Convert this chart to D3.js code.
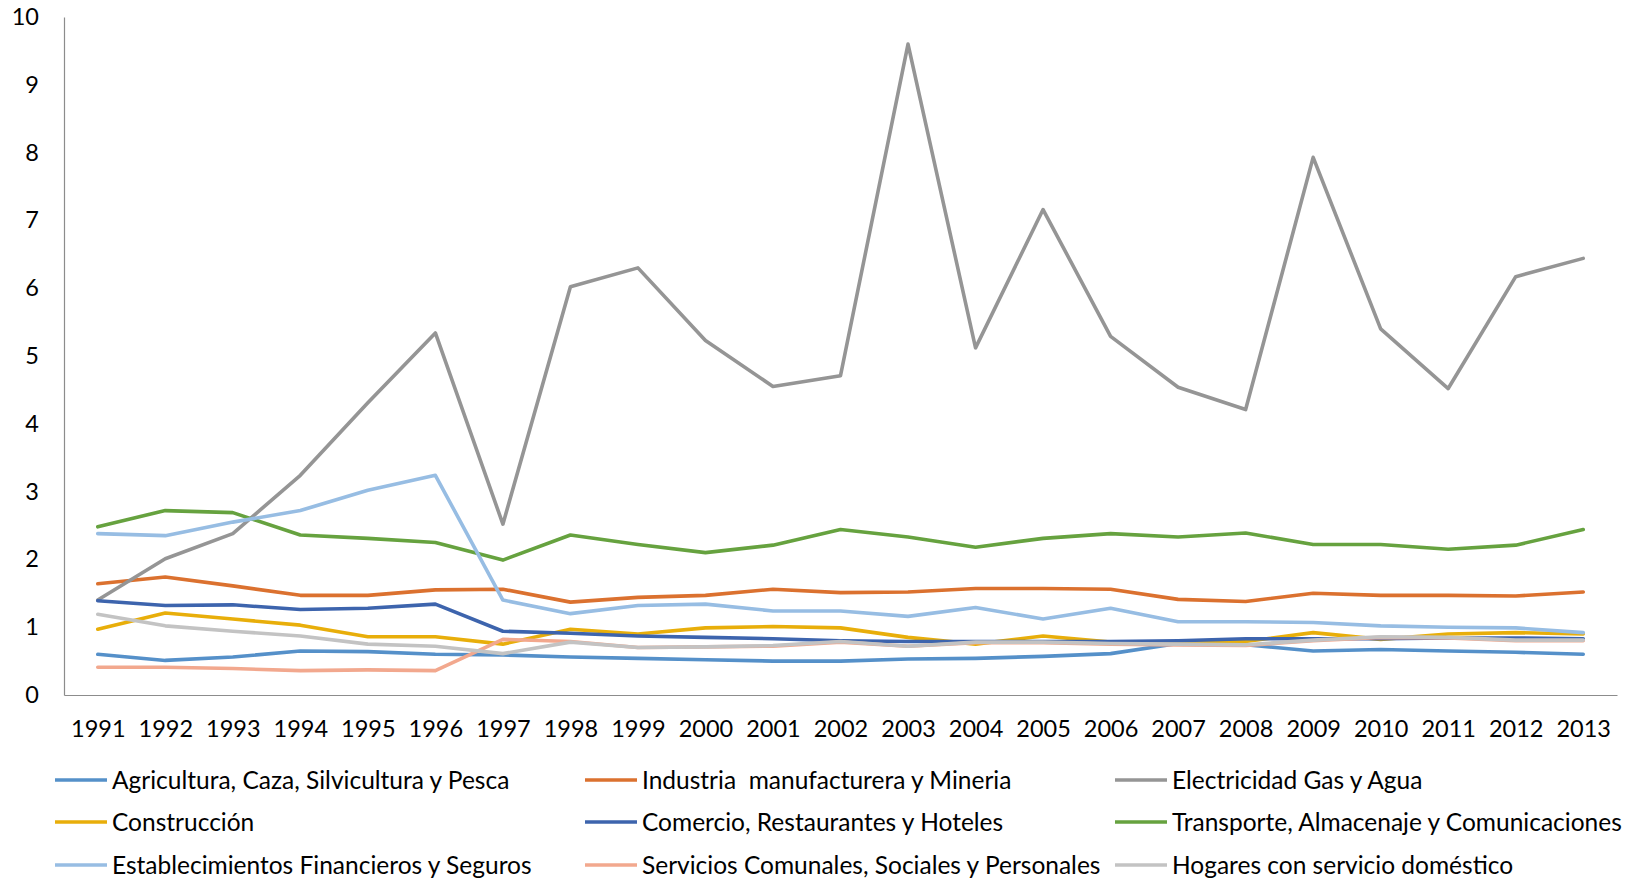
<!DOCTYPE html>
<html>
<head>
<meta charset="utf-8">
<script src="https://cdn.jsdelivr.net/npm/d3@7"></script>
<style>
  html, body { margin: 0; padding: 0; background: #fff; }
  svg { display: block; font-family: Lato, "Open Sans", sans-serif; }
</style>
</head>
<body>
<svg id="chart" width="1641" height="880"></svg>
<script>
const years = ["1991","1992","1993","1994","1995","1996","1997","1998","1999","2000","2001","2002","2003","2004","2005","2006","2007","2008","2009","2010","2011","2012","2013"];
const yTicks = [0,1,2,3,4,5,6,7,8,9,10];

const seriesNames = [
  "Agricultura, Caza, Silvicultura y Pesca",
  "Industria  manufacturera y Mineria",
  "Electricidad Gas y Agua",
  "Construcción",
  "Comercio, Restaurantes y Hoteles",
  "Transporte, Almacenaje y Comunicaciones",
  "Establecimientos Financieros y Seguros",
  "Servicios Comunales, Sociales y Personales",
  "Hogares con servicio doméstico"
];

const agricultura  = [0.60,0.51,0.56,0.65,0.64,0.60,0.59,0.56,0.54,0.52,0.50,0.50,0.53,0.54,0.57,0.61,0.76,0.74,0.65,0.67,0.65,0.63,0.60];
const industria    = [1.64,1.74,1.61,1.47,1.47,1.55,1.56,1.37,1.44,1.47,1.56,1.51,1.52,1.57,1.57,1.56,1.41,1.38,1.50,1.47,1.47,1.46,1.52];
const electricidad = [1.40,2.01,2.38,3.24,4.31,5.34,2.52,6.02,6.30,5.23,4.55,4.71,9.60,5.12,7.16,5.29,4.54,4.21,7.93,5.40,4.52,6.17,6.44];
const construccion = [0.97,1.21,1.12,1.03,0.86,0.86,0.75,0.97,0.90,0.99,1.01,0.99,0.85,0.75,0.87,0.78,0.77,0.79,0.92,0.82,0.90,0.92,0.90];
const comercio     = [1.39,1.32,1.33,1.26,1.28,1.34,0.94,0.91,0.87,0.85,0.83,0.80,0.79,0.79,0.79,0.79,0.80,0.83,0.83,0.83,0.84,0.84,0.83];
const transporte   = [2.48,2.72,2.69,2.36,2.31,2.25,1.99,2.36,2.22,2.10,2.21,2.44,2.33,2.18,2.31,2.38,2.33,2.39,2.22,2.22,2.15,2.21,2.44];
const financieros  = [2.38,2.35,2.55,2.72,3.02,3.24,1.40,1.20,1.32,1.34,1.24,1.24,1.16,1.29,1.12,1.28,1.08,1.08,1.07,1.02,1.00,0.99,0.92];
const servicios    = [0.41,0.41,0.39,0.36,0.37,0.36,0.82,0.79,0.70,0.71,0.72,0.78,0.72,0.77,0.77,0.75,0.74,0.73,0.80,0.85,0.84,0.80,0.80];
const hogares      = [1.19,1.02,0.94,0.87,0.75,0.72,0.61,0.78,0.70,0.71,0.73,0.79,0.72,0.78,0.78,0.76,0.75,0.74,0.81,0.86,0.85,0.81,0.81];

const seriesValues = [agricultura, industria, electricidad, construccion, comercio, transporte, financieros, servicios, hogares];
const colors = ["#5590C9","#DB712F","#959595","#E8AE0A","#3D64AD","#66A23F","#97BDE3","#F2A88E","#C3C3C3"];

const svg = d3.select("#chart");
const margin = {left: 64, right: 24, top: 17, bottom: 185};
const W = 1641, H = 880;

const x = d3.scalePoint().domain(years).range([margin.left, W - margin.right]).padding(0.5);
const y = d3.scaleLinear().domain([0, 10]).range([H - margin.bottom, margin.top]);

// axes
const xAxis = d3.axisBottom(x).tickSize(0).tickPadding(25);
const gx = svg.append("g").attr("transform", `translate(0,${H - margin.bottom})`).call(xAxis);
gx.select(".domain").attr("stroke", "#8c8c8c").attr("stroke-width", 1.2);
gx.selectAll("text").attr("font-size", 23.5).attr("fill", "#000").attr("font-family", "Lato, sans-serif");

const yAxis = d3.axisLeft(y).tickValues(yTicks).tickSize(0).tickPadding(25).tickFormat(d3.format("d"));
const gy = svg.append("g").attr("transform", `translate(${margin.left},0)`).call(yAxis);
gy.select(".domain").attr("stroke", "#8c8c8c").attr("stroke-width", 1.2);
gy.selectAll("text").attr("font-size", 23.5).attr("fill", "#000").attr("font-family", "Lato, sans-serif");

// lines
const line = d3.line().x((d, i) => x(years[i])).y(d => y(d));
seriesValues.forEach((vals, k) => {
  svg.append("path")
    .datum(vals)
    .attr("d", line)
    .attr("fill", "none")
    .attr("stroke", colors[k])
    .attr("stroke-width", 3.6)
    .attr("stroke-linejoin", "round")
    .attr("stroke-linecap", "round");
});

// legend
const legCols = [55, 585, 1115];
const legRows = [780, 822, 865];
const legend = svg.append("g");
seriesNames.forEach((name, k) => {
  const cx = legCols[k % 3], cy = legRows[Math.floor(k / 3)];
  legend.append("line")
    .attr("x1", cx).attr("x2", cx + 52)
    .attr("y1", cy).attr("y2", cy)
    .attr("stroke", colors[k]).attr("stroke-width", 3.6);
  legend.append("text")
    .attr("x", cx + 57).attr("y", cy)
    .attr("dy", "0.35em")
    .attr("font-size", 24.5)
    .attr("fill", "#000")
    .attr("xml:space", "preserve")
    .style("white-space", "pre")
    .text(name);
});
</script>
</body>
</html>
